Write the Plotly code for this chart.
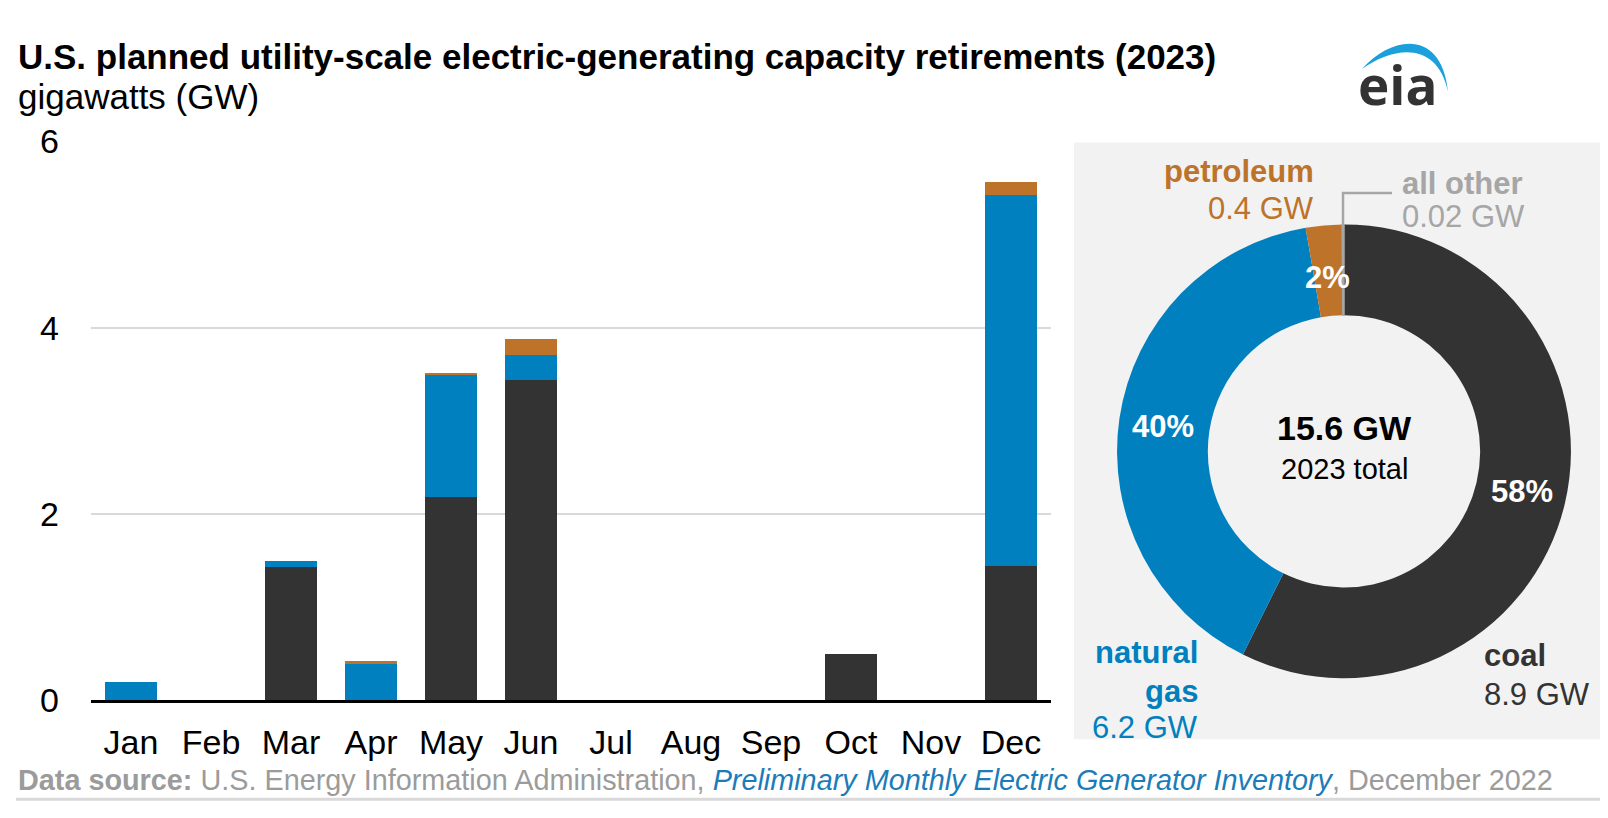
import numpy as np
import plotly.graph_objects as go

# figure size (px) -- everything below is placed in paper coords derived from it
W, H = 1608, 818

months = ["Jan", "Feb", "Mar", "Apr", "May", "Jun", "Jul", "Aug", "Sep", "Oct", "Nov", "Dec"]
coal_gw = [0, 0, 1.43, 0, 2.18, 3.44, 0, 0, 0, 0.50, 0, 1.44]
gas_gw = [0.20, 0, 0.06, 0.39, 1.31, 0.27, 0, 0, 0, 0, 0, 3.99]
petroleum_gw = [0, 0, 0, 0.03, 0.02, 0.17, 0, 0, 0, 0, 0, 0.14]

fuels = ["coal", "natural gas", "petroleum", "all other"]
fuel_totals_gw = [8.9, 6.2, 0.4, 0.02]
fuel_shares = ["58%", "40%", "2%", ""]
total_gw = "15.6 GW"

COAL = "#333333"
GAS = "#0080bf"
PETRO = "#bd732a"
OTHER = "#a6a6a6"
fuel_colors = [COAL, GAS, PETRO, OTHER]

FONT = "Liberation Sans, Arial, sans-serif"


def px(x):
    return x / W


def py(y):
    return 1 - y / H


# donut geometry (px)
CX, CY, R = 1336, 445, 238
HOLE = 0.6

fig = go.Figure()

for name, vals, color in [("coal", coal_gw, COAL),
                          ("natural gas", gas_gw, GAS),
                          ("petroleum", petroleum_gw, PETRO)]:
    fig.add_trace(go.Bar(x=months, y=vals, name=name, marker_color=color,
                         marker_line_width=0, showlegend=False))

fig.add_trace(go.Pie(
    values=fuel_totals_gw, labels=fuels, textinfo="none",
    hole=HOLE, sort=False, direction="clockwise", rotation=0,
    marker=dict(colors=fuel_colors, line=dict(color=fuel_colors, width=[0, 0, 0, 1.5])),
    domain=dict(x=[px(CX - R), px(CX + R)], y=[py(CY + R), py(CY - R)]),
    showlegend=False,
))

annotations = [
    dict(text="<b>U.S. planned utility-scale electric-generating capacity retirements (2023)</b>",
         x=px(8), y=py(31), xanchor="left", yanchor="middle", font=dict(size=35, color="black")),
    dict(text="gigawatts (GW)", x=px(8), y=py(73), xanchor="left", yanchor="middle",
         font=dict(size=35, color="black")),
    dict(text="<b>Data source:</b> U.S. Energy Information Administration, "
              "<i><span style='color:#1c7cb8'>Preliminary Monthly Electric Generator Inventory</span></i>"
              ", December 2022",
         x=px(8), y=py(790), xanchor="left", yanchor="middle", font=dict(size=28.8, color="#9b9b9b")),
    # logo text
    dict(text="eia", x=px(1390), y=py(60), xanchor="center", yanchor="middle",
         font=dict(size=53, color="#333333", family="Open Sans, sans-serif", weight=700)),
    # donut centre
    dict(text="<b>" + total_gw + "</b>", x=px(CX), y=py(421), xanchor="center", yanchor="middle",
         font=dict(size=34, color="black")),
    dict(text="2023 total", x=px(CX), y=py(464), xanchor="center", yanchor="middle",
         font=dict(size=29, color="black")),
    # donut labels
    dict(text="<b>petroleum</b>", x=px(1308), y=py(152), xanchor="right", yanchor="middle",
         font=dict(size=31, color=PETRO)),
    dict(text="0.4 GW", x=px(1308), y=py(190), xanchor="right", yanchor="middle",
         font=dict(size=31, color=PETRO)),
    dict(text="<b>all other</b>", x=px(1392), y=py(164), xanchor="left", yanchor="middle",
         font=dict(size=31, color=OTHER)),
    dict(text="0.02 GW", x=px(1392), y=py(199), xanchor="left", yanchor="middle",
         font=dict(size=31, color=OTHER)),
    dict(text="<b>natural</b>", x=px(1192), y=py(656), xanchor="right", yanchor="middle",
         font=dict(size=31, color=GAS)),
    dict(text="<b>gas</b>", x=px(1192), y=py(697), xanchor="right", yanchor="middle",
         font=dict(size=31, color=GAS)),
    dict(text="6.2 GW", x=px(1192), y=py(735), xanchor="right", yanchor="middle",
         font=dict(size=31, color=GAS)),
    dict(text="<b>coal</b>", x=px(1474), y=py(659), xanchor="left", yanchor="middle",
         font=dict(size=31, color=COAL)),
    dict(text="8.9 GW", x=px(1474), y=py(700), xanchor="left", yanchor="middle",
         font=dict(size=31, color=COAL)),
]

# percent labels sit in the ring at each slice's mid-angle
vals = np.array(fuel_totals_gw)
mid = (np.cumsum(vals) - vals / 2) / vals.sum() * 2 * np.pi
r_mid = R * (1 + HOLE) / 2 * 0.96
for share, ang in zip(fuel_shares, mid):
    if share:
        annotations.append(dict(text="<b>" + share + "</b>",
                                x=px(CX + r_mid * np.sin(ang)), y=py(CY - r_mid * np.cos(ang)),
                                xanchor="center", yanchor="middle",
                                font=dict(size=31, color="white")))

for a in annotations:
    a.update(xref="paper", yref="paper", showarrow=False)

shapes = [
    # grey panel behind the donut
    dict(type="rect", xref="paper", yref="paper", x0=px(1066), x1=px(1608), y0=py(747), y1=py(121),
         fillcolor="#f2f2f2", line_width=0, layer="below"),
    # bottom rule
    dict(type="line", xref="paper", yref="paper", x0=px(8), x1=px(1608), y0=py(810), y1=py(810),
         line=dict(color="#d9d9d9", width=3)),
    # leader line to "all other"
    dict(type="path", xref="paper", yref="paper",
         path=f"M {px(CX - 1)} {py(CY - R)} L {px(CX - 1)} {py(174)} L {px(1384)} {py(174)}",
         line=dict(color=OTHER, width=2.5)),
    # logo swoosh
    dict(type="path", xref="paper", yref="paper",
         path=(f"M {px(1354)} {py(44)} C {px(1384)} {py(8)} {px(1434)} {py(2)} {px(1440)} {py(68)} "
               f"C {px(1430)} {py(17)} {px(1389)} {py(18)} {px(1354)} {py(44)} Z"),
         fillcolor="#1ba0dc", line_width=0),
]

fig.update_layout(
    width=W, height=H,
    margin=dict(l=0, r=0, t=0, b=0),
    paper_bgcolor="white", plot_bgcolor="white",
    barmode="stack", bargap=0.35,
    font=dict(family=FONT, color="black"),
    annotations=annotations, shapes=shapes,
    xaxis=dict(domain=[px(83), px(1043)], showline=True, linecolor="black", linewidth=2.5,
               showgrid=False, ticks="", tickfont=dict(size=34), ticklabelstandoff=10,
               fixedrange=True),
    yaxis=dict(domain=[py(706), py(120)], range=[0, 6.001], tickvals=[0, 2, 4, 6],
               showgrid=True, gridcolor="#d9d9d9", gridwidth=2, zeroline=False,
               showline=False, ticks="", tickfont=dict(size=34), ticklabelstandoff=31,
               fixedrange=True),
)

fig.write_html("out.html")
